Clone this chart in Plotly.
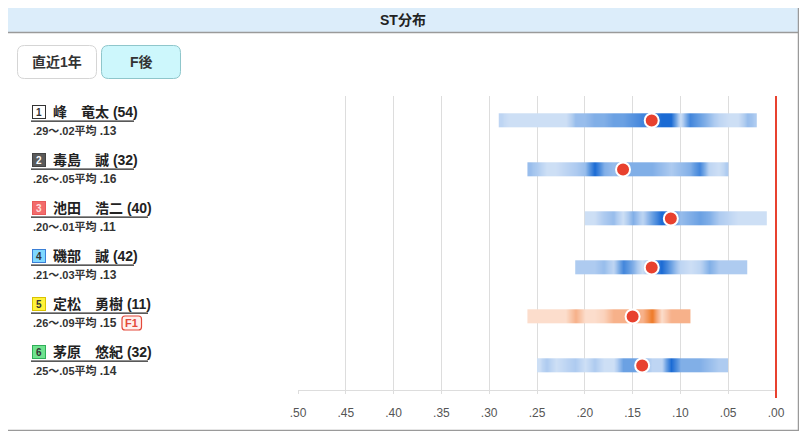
import plotly.graph_objects as go

# ST分布 (F後) - one row per racer
racer_no = [1, 2, 3, 4, 5, 6]
racer_name = ["峰　竜太", "毒島　誠", "池田　浩二", "磯部　誠", "定松　勇樹", "茅原　悠紀"]
race_count = [54, 32, 40, 42, 11, 32]
st_min = [0.29, 0.26, 0.20, 0.21, 0.26, 0.25]
st_max = [0.02, 0.05, 0.01, 0.03, 0.09, 0.05]
st_avg = [0.13, 0.16, 0.11, 0.13, 0.15, 0.14]
f_count = [0, 0, 0, 0, 1, 0]

# band shading per .01 step, from st_min down to st_max (0-10)
dens_1 = [2, 1, 1, 1, 1, 1, 1, 1, 4, 4, 5, 5, 6, 6, 7, 8, 8, 10, 10, 1, 8, 6, 4, 2, 1, 1, 4, 3]
dens_2 = [4, 3, 1, 1, 2, 3, 4, 10, 5, 4, 5, 5, 5, 5, 4, 3, 4, 5, 8, 2, 1, 3]
dens_3 = [1, 1, 3, 4, 1, 5, 2, 6, 10, 8, 4, 5, 6, 5, 3, 2, 1, 1, 1, 1]
dens_4 = [3, 3, 3, 4, 2, 8, 5, 1, 6, 10, 6, 2, 1, 2, 5, 3, 3, 3, 3]
dens_5 = [1, 1, 1, 1, 1, 5, 1, 1, 2, 5, 5, 5, 5, 10, 1, 5, 5, 5]
dens_6 = [1, 3, 1, 2, 3, 1, 3, 1, 1, 6, 6, 5, 2, 2, 10, 5, 5, 5, 4, 3, 3]
densities = [dens_1, dens_2, dens_3, dens_4, dens_5, dens_6]

tick_vals = [0.50, 0.45, 0.40, 0.35, 0.30, 0.25, 0.20, 0.15, 0.10, 0.05, 0.00]
tick_text = [".50", ".45", ".40", ".35", ".30", ".25", ".20", ".15", ".10", ".05", ".00"]

# colours
blue_scale = [[0, "#dde9f8"], [0.3, "#aecbf0"], [0.6, "#6ba1e3"], [1, "#1b6bd4"]]
orange_scale = [[0, "#fde8dc"], [0.5, "#f7b18a"], [1, "#ef7a26"]]
box_fill = ["#ffffff", "#5a5a5a", "#f26b6b", "#7fd8ff", "#fff23a", "#6fe38f"]
box_line = ["#333333", "#444444", "#e85a5a", "#3b7fd6", "#d9c200", "#2fae58"]
box_text = ["#333333", "#ffffff", "#ffe0e0", "#333333", "#333333", "#333333"]

FONT = "Liberation Sans, Arial, Noto Sans CJK JP"

# page coordinates (the page body adds an 8px margin around the figure)
OX, OY = 8, 8
W, H = 791, 423
L, R, T, B = 298, 776, 96, 390


def xp(px):
    return (px - L) / (R - L)


def yp(py):
    return (B - py) / (B - T)


def rrect(x0, y0, x1, y1, r):
    pts = [
        ("M", x0 + r, y0), ("L", x1 - r, y0), ("Q", x1, y0, x1, y0 + r),
        ("L", x1, y1 - r), ("Q", x1, y1, x1 - r, y1), ("L", x0 + r, y1),
        ("Q", x0, y1, x0, y1 - r), ("L", x0, y0 + r), ("Q", x0, y0, x0 + r, y0),
    ]
    out = ""
    for p in pts:
        coords = p[1:]
        s = []
        for k in range(0, len(coords), 2):
            s.append("%.5f,%.5f" % (xp(coords[k]), yp(coords[k + 1])))
        out += p[0] + " ".join(s) + " "
    return out + "Z"


def label(x, y, text, size, color, xanchor="center", **kw):
    return dict(xref="paper", yref="paper", x=xp(x), y=yp(y), text=text, showarrow=False,
                xanchor=xanchor, yanchor="middle", font=dict(size=size, color=color), **kw)


fig = go.Figure()

half = 0.147
for i, dens in enumerate(densities):
    bins = [round(st_min[i] - k * 0.01, 2) for k in range(len(dens))]
    edges = [bins[0]] + [(bins[k] + bins[k + 1]) / 2 for k in range(len(bins) - 1)] + [bins[-1]]
    fig.add_trace(go.Heatmap(
        x=edges, y=[i - half, i + half], z=[dens],
        zmin=0, zmax=10, zsmooth="best",
        colorscale=orange_scale if f_count[i] else blue_scale,
        showscale=False, hoverinfo="skip",
    ))

fig.add_trace(go.Scatter(
    x=st_avg, y=list(range(len(st_avg))), mode="markers",
    marker=dict(size=14, color="#e8412f", line=dict(color="white", width=2)),
    hoverinfo="skip", showlegend=False,
))

shapes = []
annotations = []

# panel + title bar
shapes.append(dict(type="rect", xref="paper", yref="paper", x0=xp(7), x1=xp(798.5), y0=yp(6), y1=yp(32.5),
                   fillcolor="#dcedfa", line=dict(width=0), layer="below"))
shapes.append(dict(type="line", xref="paper", yref="paper", x0=xp(7), x1=xp(798.5), y0=yp(32.5), y1=yp(32.5),
                   line=dict(color="#9a9a9a", width=1.5)))
shapes.append(dict(type="rect", xref="paper", yref="paper", x0=xp(7), x1=xp(798.5), y0=yp(6), y1=yp(430.5),
                   line=dict(color="#9a9a9a", width=1.5)))
annotations.append(label(403, 19.5, "<b>ST分布</b>", 14, "#222"))

# buttons
shapes.append(dict(type="path", xref="paper", yref="paper", path=rrect(17.5, 45.5, 96.5, 78.5, 7),
                   fillcolor="#ffffff", line=dict(color="#d5d5d5", width=1)))
shapes.append(dict(type="path", xref="paper", yref="paper", path=rrect(101.5, 45.5, 180.5, 78.5, 7),
                   fillcolor="#cdf7fc", line=dict(color="#8ec6cb", width=1)))
annotations.append(label(57, 62, "<b>直近1年</b>", 14, "#333"))
annotations.append(label(141, 62, "<b>F後</b>", 14, "#333"))

# racer labels
for i in range(len(racer_no)):
    top = 111.7 + 48 * i
    annotations.append(label(38.5, top, "<b>%d</b>" % racer_no[i], 10, box_text[i],
                             width=12, height=12, bgcolor=box_fill[i],
                             bordercolor=box_line[i], borderwidth=1, borderpad=0))
    annotations.append(label(51, top, "<b>%s (%d)</b>" % (racer_name[i], race_count[i]), 14, "#222",
                             xanchor="left"))
    end_px = 52 + 14 * len(racer_name[i]) + 26
    shapes.append(dict(type="line", xref="paper", yref="paper", x0=xp(31), x1=xp(end_px),
                       y0=yp(top + 9.5), y1=yp(top + 9.5), line=dict(color="#222", width=1.2)))
    stats = "<b>.%02d〜.%02d平均 <span style='font-size:12px'>.%02d</span></b>" % (
        round(st_min[i] * 100), round(st_max[i] * 100), round(st_avg[i] * 100))
    annotations.append(label(31, top + 19.5, stats, 11, "#333", xanchor="left"))
    if f_count[i]:
        shapes.append(dict(type="path", xref="paper", yref="paper", path=rrect(122, 316, 141.5, 330, 3),
                           fillcolor="#fff1ef", line=dict(color="#e4493a", width=1.2)))
        annotations.append(label(131.8, 323.2, "<b>F%d</b>" % f_count[i], 11, "#e4493a"))

# flying line at .00 (paper ref so it is not clipped at the plot edge)
shapes.append(dict(type="line", xref="paper", yref="paper", x0=1, x1=1, y0=yp(398), y1=1,
                   line=dict(color="#e8412f", width=2)))

fig.update_layout(
    width=W, height=H,
    margin=dict(l=L - OX, r=W - (R - OX), t=T - OY, b=H - (B - OY)),
    paper_bgcolor="white", plot_bgcolor="white",
    font=dict(family=FONT, size=12, color="#555"),
    showlegend=False,
    shapes=shapes, annotations=annotations,
    xaxis=dict(range=[0.5, 0], tickvals=tick_vals, ticktext=tick_text,
               showgrid=True, gridcolor="#dddddd", gridwidth=1,
               showline=True, linecolor="#dddddd", linewidth=1,
               ticks="outside", ticklen=3, tickcolor="#dddddd",
               ticklabelstandoff=9,
               zeroline=False, fixedrange=True,
               tickfont=dict(size=12, color="#555")),
    yaxis=dict(range=[5.5, -0.5], showgrid=False, zeroline=False, showticklabels=False,
               fixedrange=True),
)

fig.write_html("out.html")
